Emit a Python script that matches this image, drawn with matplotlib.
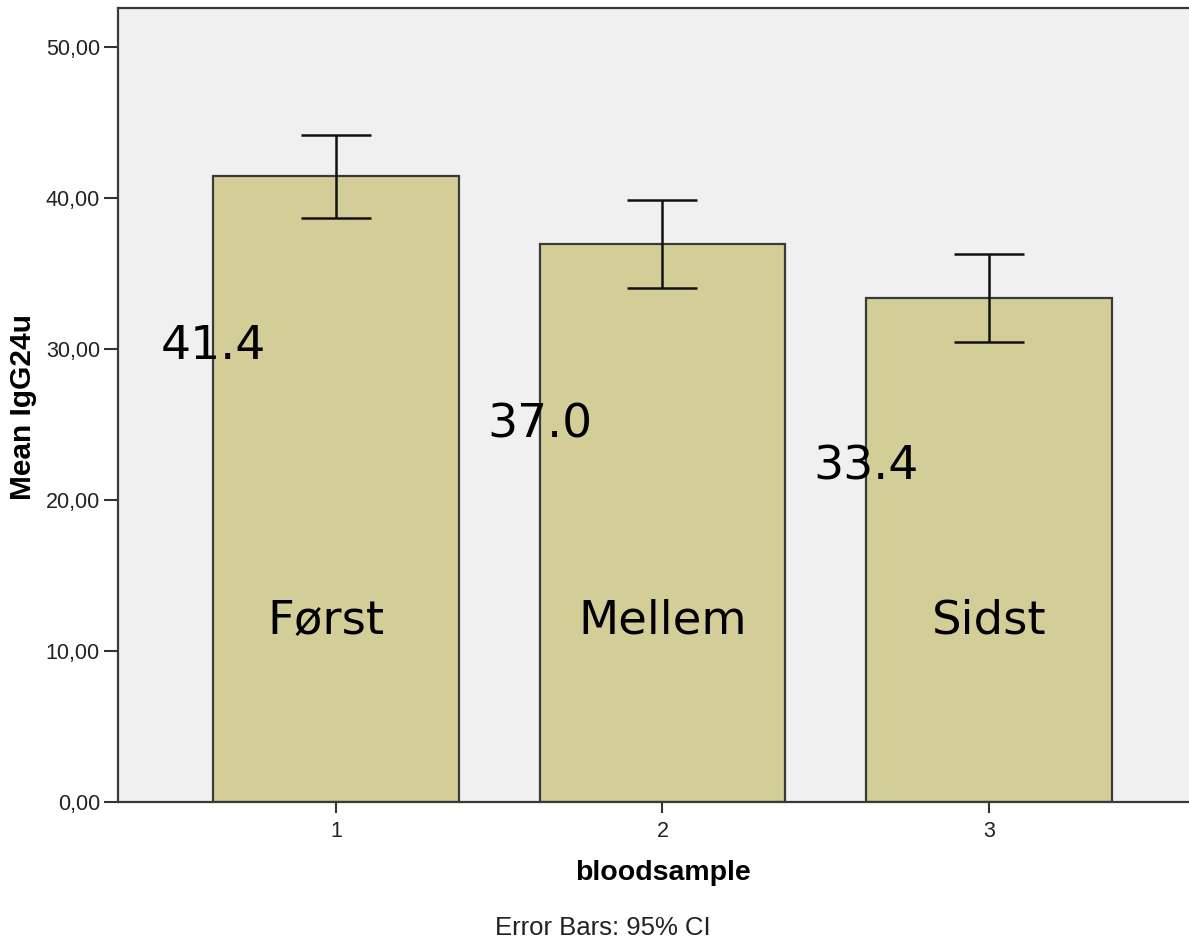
import matplotlib
matplotlib.use("Agg")
import matplotlib.pyplot as plt
import numpy as np

# bloodsample groups
samples = [1, 2, 3]
names = ["Først", "Mellem", "Sidst"]
means = [41.45, 36.98, 33.42]
ci_low = [38.66, 34.04, 30.50]
ci_high = [44.21, 39.91, 36.30]
value_labels = ["41.4", "37.0", "33.4"]
yticks = [0, 10, 20, 30, 40, 50]

x = np.array(samples, dtype=float)
m = np.array(means)
yerr = np.vstack([m - np.array(ci_low), np.array(ci_high) - m])

fig = plt.figure(figsize=(11.89, 9.44), dpi=100)
ax = fig.add_axes([118 / 1189, 142 / 944, 1 - 118 / 1189, (802 - 8) / 944])
ax.set_facecolor("#f0f0f0")

width = 0.753
ax.bar(x, m, width, color="#d3ce97", edgecolor="#3a3a3a", linewidth=1.6, zorder=2)
ax.errorbar(x, m, yerr=yerr, fmt="none", ecolor="#111111", elinewidth=1.8,
            capsize=25, capthick=1.8, zorder=3)

# value annotations at the left edge of each bar
label_y = [30.2, 25.0, 22.2]
for xi, txt, ly in zip(x, value_labels, label_y):
    ax.text(xi - width / 2, ly, txt, ha="center", va="center",
            fontsize=34, family="DejaVu Sans", color="black", zorder=4)
name_dx = [-0.03, 0.0, 0.0]
for xi, name, dx in zip(x, names, name_dx):
    ax.text(xi + dx, 12.0, name, ha="center", va="center",
            fontsize=33.5, family="DejaVu Sans", color="black", zorder=4)

ax.set_xlim(0.332, 3.613)
ax.set_ylim(0, 52.6)
ax.set_xticks(x)
ax.set_xticklabels([str(s) for s in samples])
ax.set_yticks(yticks)
ax.set_yticklabels([f"{v:.2f}".replace(".", ",") for v in yticks])

for lab in ax.get_xticklabels() + ax.get_yticklabels():
    lab.set_family("Liberation Sans")
    lab.set_fontsize(15.5)
    lab.set_color("#222222")
ax.tick_params(axis="y", length=10, width=1.5, color="#333333", pad=3)
ax.tick_params(axis="x", length=8, width=1.5, color="#333333", pad=6)

for side in ["left", "top", "bottom"]:
    ax.spines[side].set_color("#3a3a3a")
    ax.spines[side].set_linewidth(1.6)
ax.spines["right"].set_visible(False)

ax.set_xlabel("bloodsample", family="Liberation Sans", fontweight="bold",
              fontsize=20.5)
ax.set_ylabel("Mean IgG24u", family="Liberation Sans", fontweight="bold",
              fontsize=21.5)
ax.xaxis.set_label_coords((663 - 118) / 1071, (802 - 860) / 794)
ax.yaxis.set_label_coords((37 - 118) / 1071, (802 - 407) / 794)

fig.text(603 / 1189, 1 - 928 / 944, "Error Bars: 95% CI", ha="center", va="center",
         family="Liberation Sans", fontsize=18.5, color="#222222")

fig.savefig("out.png", dpi=100, facecolor="white")
plt.close(fig)
